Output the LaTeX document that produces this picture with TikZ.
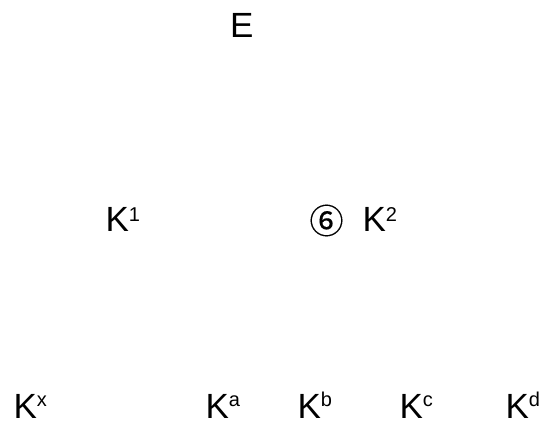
\documentclass[tikz,border=0pt]{standalone}
\usepackage{fontspec}
\setmainfont{Liberation Sans}
\newfontfamily\symfont[FakeBold=0.3]{Noto Sans CJK SC}
\newcommand{\mysupd}[1]{\raisebox{10pt}{\fontsize{20pt}{22pt}\selectfont #1}}
\newcommand{\mysupl}[1]{\raisebox{12pt}{\fontsize{20pt}{22pt}\selectfont #1}}
\begin{document}
\begin{tikzpicture}[x=1pt,y=1pt,
  lbl/.style={inner sep=0pt, outer sep=0pt, anchor=base west, font=\fontsize{35pt}{40pt}\selectfont}]
\useasboundingbox (0,0) rectangle (546,425);
\node[lbl] (e) at (230,387) {E};
\node[lbl] (k1) at (105.5,193) {K\mysupd{1}};
\node[inner sep=0pt, font=\symfont\fontsize{34pt}{38pt}\selectfont] (c6) at (326.5,204.5) {⑥};
\node[lbl] (k2) at (362.5,193) {K\mysupd{2}};
\node[lbl] (kx) at (13.5,6) {K\mysupl{x}};
\node[lbl] (ka) at (205.5,6) {K\mysupl{a}};
\node[lbl] (kb) at (297.5,6) {K\mysupl{b}};
\node[lbl] (kc) at (399.5,6) {K\mysupl{c}};
\node[lbl] (kd) at (505.5,6) {K\mysupl{d}};
\end{tikzpicture}
\end{document}
